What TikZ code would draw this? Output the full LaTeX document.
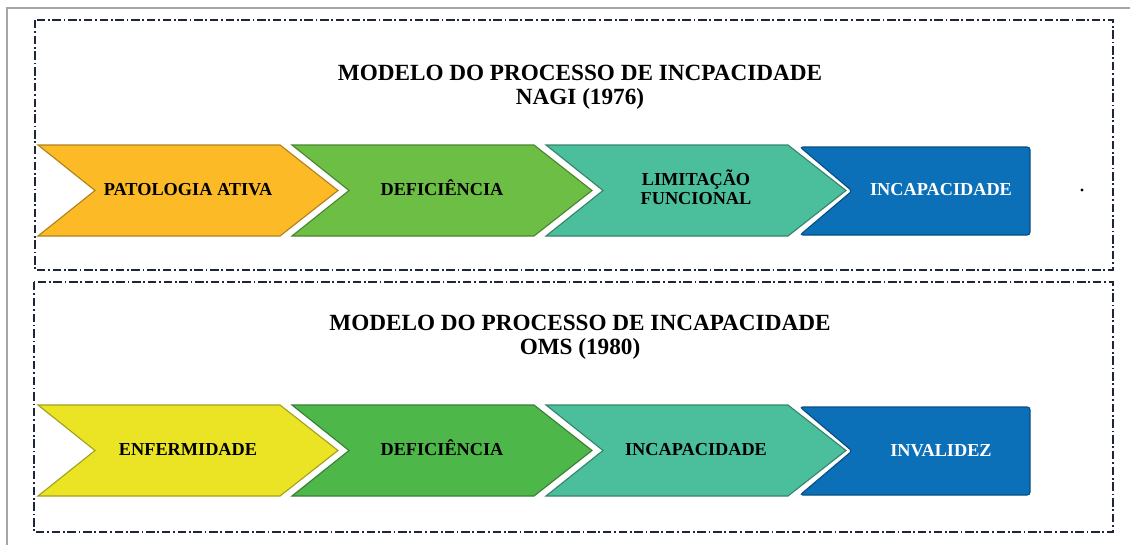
\documentclass[tikz,border=0pt]{standalone}
\usepackage{fontspec}
\setmainfont{Liberation Serif}
\usetikzlibrary{positioning}
\definecolor{nagiAmber}{RGB}{251,186,38}
\definecolor{nagiGreen}{RGB}{109,190,69}
\definecolor{omsYellow}{RGB}{234,228,36}
\definecolor{omsGreen}{RGB}{78,183,74}
\definecolor{modelTeal}{RGB}{75,190,155}
\definecolor{modelBlue}{RGB}{12,112,185}
\definecolor{modelInk}{RGB}{30,38,58}
\definecolor{pageGray}{RGB}{165,165,165}

\begin{document}
\begin{tikzpicture}[
      x=0.025cm, y=-0.025cm,
      frame/.style={draw=modelInk, line width=1.4pt, dash pattern=on 6pt off 2pt on 1.2pt off 2pt},
      title/.style={font=\fontsize{16.5}{17}\selectfont\bfseries, align=center, text=black},
      stage/.style={font=\fontsize{13}{13}\selectfont\bfseries, align=center, text=black,
        execute at begin node={\vphantom{ÊÇ}}},
      chevron/.style={line width=0.8pt}
    ]
    \useasboundingbox (0,0) rectangle (1130,545);
    \draw[pageGray, line width=1.2pt] (7,545) -- (7,8) -- (1130,8);

    % Nagi (1976)
    \draw[frame] (35,20) rectangle (1113,270);
    \node[title] (nagiTitle) at (580,87) {MODELO DO PROCESSO DE INCPACIDADE\\NAGI (1976)};
    \foreach \x/\col/\txt/\nm in {38/nagiAmber/{PATOLOGIA ATIVA}/nagiPat, 292/nagiGreen/{DEFICIÊNCIA}/nagiDef, 546/modelTeal/{LIMITAÇÃO\\FUNCIONAL\vphantom{Ç}}/nagiLim} {
      \filldraw[chevron, fill=\col, draw=\col!70!black] (\x,145) -- ++(242,0) -- ++(58,45.5) -- ++(-58,45.5) -- ++(-242,0) -- ++(57,-45.5) -- cycle;
      \node[stage] (\nm) at (\x+150,189) {\txt};
    }
    \filldraw[chevron, fill=modelBlue, draw=modelBlue!70!black, rounded corners=2pt] (800,147) -- (1030,147) -- (1030,235) -- (800,235) -- (852,191) -- cycle;
    \node[stage, text=white] (nagiInc) at (941,189) {INCAPACIDADE};
    \fill (1082,190) circle (1.2pt);

    % OMS (1980)
    \draw[frame] (34,282) rectangle (1113,532);
    \node[title] (omsTitle) at (580,337) {MODELO DO PROCESSO DE INCAPACIDADE\\OMS (1980)};
    \foreach \x/\col/\txt/\nm in {38/omsYellow/{ENFERMIDADE}/omsEnf, 292/omsGreen/{DEFICIÊNCIA}/omsDef, 546/modelTeal/{INCAPACIDADE}/omsInc} {
      \filldraw[chevron, fill=\col, draw=\col!70!black] (\x,405) -- ++(242,0) -- ++(58,45.5) -- ++(-58,45.5) -- ++(-242,0) -- ++(57,-45.5) -- cycle;
      \node[stage] (\nm) at (\x+150,449) {\txt};
    }
    \filldraw[chevron, fill=modelBlue, draw=modelBlue!70!black, rounded corners=2pt] (800,407) -- (1030,407) -- (1030,495) -- (800,495) -- (852,451) -- cycle;
    \node[stage, text=white] (omsInv) at (941,450) {INVALIDEZ};
  \end{tikzpicture}
\end{document}
